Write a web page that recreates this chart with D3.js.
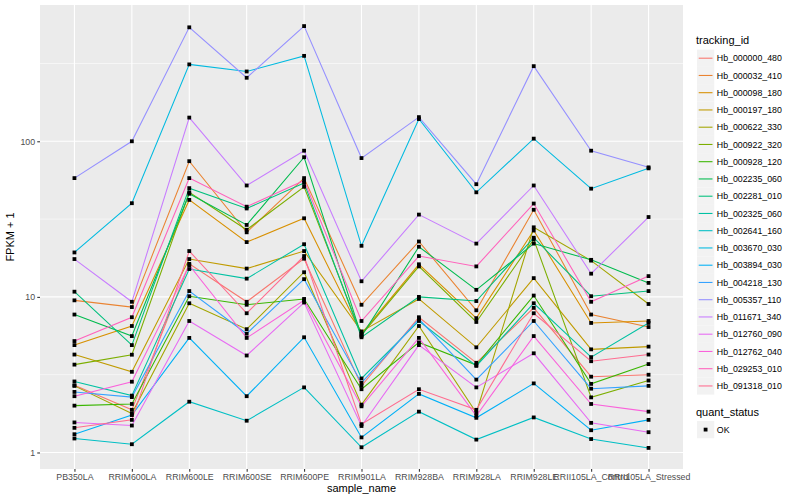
<!DOCTYPE html>
<html>
<head>
<meta charset="utf-8">
<script src="https://cdn.jsdelivr.net/npm/d3@7"></script>
<style>
  body { margin: 0; background: #fff; }
  text { font-family: "Liberation Sans", Arial, Helvetica, sans-serif; }
</style>
</head>
<body>
<script>
var samples = ["PB350LA", "RRIM600LA", "RRIM600LE", "RRIM600SE", "RRIM600PE", "RRIM901LA",
               "RRIM928BA", "RRIM928LA", "RRIM928LE", "RRII105LA_Control", "RRII105LA_Stressed"];

var trackingIds = ["Hb_000000_480", "Hb_000032_410", "Hb_000098_180", "Hb_000197_180", "Hb_000622_330",
                   "Hb_000922_320", "Hb_000928_120", "Hb_002235_060", "Hb_002281_010", "Hb_002325_060",
                   "Hb_002641_160", "Hb_003670_030", "Hb_003894_030", "Hb_004218_130", "Hb_005357_110",
                   "Hb_011671_340", "Hb_012760_090", "Hb_012762_040", "Hb_029253_010", "Hb_091318_010"];

// FPKM + 1, one array per gene, in sample order
var hb_000000_480 = [2.7, 1.88, 16.3, 9.3, 17.6, 2.68, 7.4, 3.77, 8.5, 3.07, 3.16];
var hb_000032_410 = [9.5, 8.6, 74.5, 26, 58, 8.9, 22.7, 8.2, 36.3, 7.7, 6.4];
var hb_000098_180 = [4.9, 6.5, 42, 22.5, 32, 5.8, 16.2, 7.3, 26.7, 6.8, 7.0];
var hb_000197_180 = [4.26, 3.3, 17.5, 15.2, 19.7, 6.0, 9.7, 4.74, 13.2, 4.6, 4.79];
var hb_000622_330 = [2.68, 1.78, 9.1, 6.2, 14.4, 2.03, 6.5, 1.8, 28, 17.1, 9.0];
var hb_000922_320 = [3.67, 4.25, 47, 27, 51, 5.7, 15.7, 6.9, 23.4, 2.26, 2.9];
var hb_000928_120 = [2.0, 2.05, 10.1, 8.9, 9.7, 2.55, 5.1, 3.65, 10.2, 2.76, 3.7];
var hb_002235_060 = [7.7, 5.6, 46, 29, 79, 5.6, 21, 11.1, 22, 17.3, 12.3];
var hb_002281_010 = [10.8, 4.9, 50, 37, 54, 5.5, 10, 9.4, 24, 10.1, 10.9];
var hb_002325_060 = [2.86, 2.32, 15.1, 13.1, 21.8, 2.99, 7.0, 3.6, 9.1, 4.1, 6.8];
var hb_002641_160 = [1.23, 1.13, 2.12, 1.6, 2.62, 1.08, 1.83, 1.21, 1.68, 1.22, 1.07];
var hb_003670_030 = [19.3, 40, 312, 281, 354, 21.3, 139, 47, 104, 49.6, 67];
var hb_003894_030 = [1.31, 1.74, 5.45, 2.3, 5.5, 1.25, 2.38, 1.67, 2.78, 1.39, 1.62];
var hb_004218_130 = [2.45, 2.27, 10.9, 5.8, 13, 2.8, 7.2, 2.94, 7.0, 2.57, 2.68];
var hb_005357_110 = [58, 100, 540, 256, 550, 78, 143, 53, 304, 87, 68];
var hb_011671_340 = [17.5, 9.3, 142, 52, 87, 12.6, 33.8, 22, 52, 14.1, 32.6];
var hb_012760_090 = [1.56, 1.49, 7.0, 4.2, 9.2, 1.48, 4.9, 2.62, 4.34, 1.55, 1.35];
var hb_012762_040 = [2.3, 2.85, 16, 5.45, 9.5, 1.98, 5.45, 1.72, 5.6, 2.05, 1.83];
var hb_029253_010 = [5.2, 7.4, 58, 38, 56, 7.0, 18.3, 15.7, 39.8, 9.3, 13.6];
var hb_091318_010 = [1.44, 1.62, 19.7, 7.85, 18.3, 1.52, 2.55, 1.88, 7.85, 3.86, 4.26];

var yTicks = [1, 10, 100];
var yMinor = [Math.sqrt(10), Math.sqrt(1000), Math.sqrt(100000)];

var seriesValues = [hb_000000_480, hb_000032_410, hb_000098_180, hb_000197_180, hb_000622_330,
                    hb_000922_320, hb_000928_120, hb_002235_060, hb_002281_010, hb_002325_060,
                    hb_002641_160, hb_003670_030, hb_003894_030, hb_004218_130, hb_005357_110,
                    hb_011671_340, hb_012760_090, hb_012762_040, hb_029253_010, hb_091318_010];

// ggplot's default hue palette for 20 levels
var palette = ["#F8766D", "#EA8331", "#D89000", "#C09B00", "#A3A500", "#7CAE00", "#39B600", "#00BB4E",
               "#00BF7D", "#00C1A3", "#00BFC4", "#00BAE0", "#00B0F6", "#35A2FF", "#9590FF", "#C77CFF",
               "#E76BF3", "#FA62DB", "#FF62BC", "#FF6C90"];

var width = 800, height = 500;
var panel = { left: 40, right: 683, top: 5, bottom: 469 };

var series = trackingIds.map(function(id, i) {
  return { id: id, values: seriesValues[i].map(function(v, j) { return { s: samples[j], v: v }; }) };
});

var svg = d3.select("body").append("svg")
    .attr("width", width)
    .attr("height", height);

var x = d3.scalePoint()
    .domain(samples)
    .range([panel.left, panel.right])
    .padding(0.6);

// 5% expansion in log space, like ggplot
var all = d3.merge(seriesValues);
var lmin = Math.log10(d3.min(all)), lmax = Math.log10(d3.max(all));
var pad = (lmax - lmin) * 0.05;
var y = d3.scaleLog()
    .domain([Math.pow(10, lmin - pad), Math.pow(10, lmax + pad)])
    .range([panel.bottom, panel.top]);

var color = d3.scaleOrdinal().domain(trackingIds).range(palette);

// panel
svg.append("rect")
    .attr("x", panel.left).attr("y", panel.top)
    .attr("width", panel.right - panel.left).attr("height", panel.bottom - panel.top)
    .attr("fill", "#EBEBEB");

svg.append("g").selectAll("line").data(yMinor).enter().append("line")
    .attr("x1", panel.left).attr("x2", panel.right)
    .attr("y1", function(d) { return y(d); }).attr("y2", function(d) { return y(d); })
    .attr("stroke", "#fff").attr("stroke-width", 0.55);

svg.append("g").selectAll("line").data(yTicks).enter().append("line")
    .attr("x1", panel.left).attr("x2", panel.right)
    .attr("y1", function(d) { return y(d); }).attr("y2", function(d) { return y(d); })
    .attr("stroke", "#fff").attr("stroke-width", 1.1);

svg.append("g").selectAll("line").data(samples).enter().append("line")
    .attr("x1", function(d) { return x(d); }).attr("x2", function(d) { return x(d); })
    .attr("y1", panel.top).attr("y2", panel.bottom)
    .attr("stroke", "#fff").attr("stroke-width", 1.1);

// axes
var yAxis = svg.append("g")
    .attr("transform", "translate(" + panel.left + ",0)")
    .call(d3.axisLeft(y).tickValues(yTicks).tickFormat(d3.format("d")).tickSize(2.75).tickPadding(2.2));
var xAxis = svg.append("g")
    .attr("transform", "translate(0," + panel.bottom + ")")
    .call(d3.axisBottom(x).tickSize(2.75).tickPadding(2.2));
[xAxis, yAxis].forEach(function(a) {
  a.select(".domain").remove();
  a.selectAll(".tick line").attr("stroke", "#333333").attr("stroke-width", 1.07);
  a.selectAll(".tick text").attr("fill", "#4D4D4D").style("font-size", "8.8px")
      .style("font-family", "Liberation Sans, Arial, sans-serif");
});

svg.append("text")
    .attr("x", (panel.left + panel.right) / 2).attr("y", 492)
    .attr("text-anchor", "middle").style("font-size", "11px")
    .text("sample_name");
svg.append("text")
    .attr("transform", "translate(14," + ((panel.top + panel.bottom) / 2) + ") rotate(-90)")
    .attr("text-anchor", "middle").style("font-size", "11px")
    .text("FPKM + 1");

// lines
var line = d3.line()
    .x(function(d) { return x(d.s); })
    .y(function(d) { return y(d.v); });

svg.append("g").selectAll("path").data(series).enter().append("path")
    .attr("d", function(d) { return line(d.values); })
    .attr("fill", "none")
    .attr("stroke", function(d) { return color(d.id); })
    .attr("stroke-width", 1.07);

// points
var pts = d3.merge(series.map(function(d) { return d.values; }));
svg.append("g").selectAll("rect").data(pts).enter().append("rect")
    .attr("x", function(d) { return x(d.s) - 1.9; })
    .attr("y", function(d) { return y(d.v) - 1.9; })
    .attr("width", 3.8).attr("height", 3.8)
    .attr("fill", "#000");

// legend: tracking_id
var lg = svg.append("g").attr("transform", "translate(697,0)");
lg.append("text").attr("x", -1).attr("y", 44).style("font-size", "11px").text("tracking_id");
var rowH = 17.25, row0 = 49.6;
var items = lg.selectAll("g.item").data(trackingIds).enter().append("g")
    .attr("transform", function(d, i) { return "translate(0," + (row0 + i * rowH) + ")"; });
items.append("rect").attr("width", 17.25).attr("height", 17.25).attr("fill", "#F2F2F2");
items.append("line").attr("x1", 1.7).attr("x2", 15.5).attr("y1", 8.6).attr("y2", 8.6)
    .attr("stroke", function(d) { return color(d); }).attr("stroke-width", 1.07);
items.append("text").attr("x", 19.8).attr("y", 11.8).style("font-size", "8.8px").text(function(d) { return d; });

// legend: quant_status
var lq = svg.append("g").attr("transform", "translate(697,0)");
lq.append("text").attr("x", -1).attr("y", 416).style("font-size", "11px").text("quant_status");
lq.append("rect").attr("y", 421).attr("width", 17.25).attr("height", 17.25).attr("fill", "#F2F2F2");
lq.append("rect").attr("x", 6.7).attr("y", 427.7).attr("width", 3.8).attr("height", 3.8).attr("fill", "#000");
lq.append("text").attr("x", 19.8).attr("y", 432.8).style("font-size", "8.8px").text("OK");
</script>
</body>
</html>
